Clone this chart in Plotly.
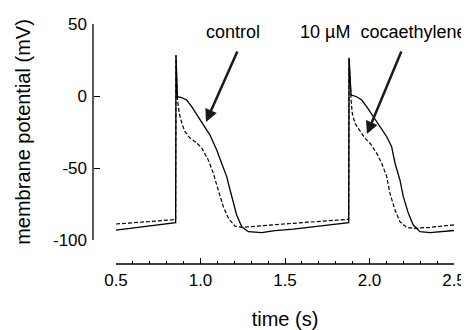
import plotly.graph_objects as go

# control (solid)
ctrl_t = [0.5, 0.853, 0.855, 0.863, 0.889, 0.918, 0.948, 0.978, 1.017, 1.056, 1.096, 1.125,
          1.155, 1.175, 1.194, 1.214, 1.244, 1.283, 1.362, 1.441, 1.549, 1.877,
          1.879, 1.891, 1.924, 1.954, 1.983, 2.022, 2.062, 2.102, 2.131, 2.151, 2.180,
          2.200, 2.230, 2.259, 2.299, 2.358, 2.5]
ctrl_v = [-93.1, -88.0, 28.5, -0.5, -1.2, -2.8, -7.4, -13.2, -20.1, -27.1, -37.5, -46.7,
          -56.0, -65.3, -74.5, -82.6, -90.8, -94.2, -94.9, -93.5, -92.4, -88.0,
          26.5, 0.7, -0.5, -2.8, -7.4, -14.4, -21.3, -28.3, -35.2, -46.7, -58.3,
          -69.9, -81.5, -89.6, -94.2, -94.9, -93.4]

# 10 uM cocaethylene (dashed)
coca_t = [0.5, 0.853, 0.855, 0.863, 0.874, 0.889, 0.908, 0.938, 0.978, 1.007, 1.046, 1.076,
          1.105, 1.135, 1.165, 1.204, 1.244, 1.362, 1.549, 1.877,
          1.879, 1.891, 1.898, 1.914, 1.944, 1.973, 2.003, 2.033, 2.043, 2.072, 2.102,
          2.121, 2.151, 2.180, 2.220, 2.259, 2.358, 2.5]
coca_v = [-88.9, -85.8, 28.0, -1.6, -11.8, -18.8, -24.8, -29.2, -32.6, -36.1, -44.4, -53.7,
          -65.3, -76.9, -84.9, -90.3, -91.2, -90.3, -88.4, -85.6,
          26.0, -2.8, -12.0, -19.0, -24.8, -29.4, -32.8, -37.5, -39.8, -46.7, -56.0,
          -67.6, -79.2, -87.3, -91.2, -91.9, -91.2, -89.5]

x_ticks = [0.5, 1.0, 1.5, 2.0, 2.5]
x_labels = ["0.5", "1.0", "1.5", "2.0", "2.5"]
y_ticks = [-100, -50, 0, 50]
y_labels = ["-100", "-50", "0", "50"]
x_range = [0.5, 2.5]
y_range = [-100, 50]

FONT = "Liberation Sans, Arial, Helvetica, sans-serif"
X_DOMAIN = [23 / 361, 1]
Y_DOMAIN = [0.1, 1]

fig = go.Figure()
fig.add_trace(go.Scatter(x=coca_t, y=coca_v, mode="lines",
                         line=dict(color="black", width=1.2, dash="4px,2px"),
                         showlegend=False))
fig.add_trace(go.Scatter(x=ctrl_t, y=ctrl_v, mode="lines",
                         line=dict(color="black", width=1.3),
                         showlegend=False))

# detached axis lines (paper coordinates, matching the axis domains)
fig.add_shape(type="line", xref="paper", yref="paper", x0=0, x1=0, y0=Y_DOMAIN[0], y1=Y_DOMAIN[1],
              line=dict(color="black", width=1.3))
fig.add_shape(type="line", xref="paper", yref="paper", x0=X_DOMAIN[0], x1=X_DOMAIN[1], y0=0, y1=0,
              line=dict(color="black", width=1.3))

# arrows
fig.add_annotation(x=1.0325, y=-18, ax=1.222, ay=32, xref="x", yref="y", axref="x", ayref="y",
                   text="", showarrow=True, arrowhead=2, arrowsize=1, arrowwidth=2.5,
                   arrowcolor="#1a1a1a")
fig.add_annotation(x=1.985, y=-26.4, ax=2.192, ay=32, xref="x", yref="y", axref="x", ayref="y",
                   text="", showarrow=True, arrowhead=2, arrowsize=1, arrowwidth=2.5,
                   arrowcolor="#1a1a1a")
fig.add_annotation(x=1.192, y=44.4, xref="x", yref="y", text="control", showarrow=False,
                   font=dict(size=18, color="black", family=FONT))
fig.add_annotation(x=2.08, y=44.4, xref="x", yref="y", text="10 µM\u00a0 cocaethylene",
                   showarrow=False, font=dict(size=18, color="black", family=FONT))

fig.update_layout(
    width=461, height=322,
    margin=dict(l=85, r=15, t=16, b=66, autoexpand=False),
    paper_bgcolor="white", plot_bgcolor="white",
    font=dict(family=FONT, color="black", size=17),
    xaxis=dict(domain=X_DOMAIN, anchor="free", position=0, range=x_range,
               showline=False, showgrid=False, zeroline=False, automargin=False,
               ticks="inside", ticklen=6, tickwidth=1.2, tickcolor="black",
               tickvals=x_ticks, ticktext=x_labels, tickfont=dict(size=17),
               ticklabelstandoff=4,
               minor=dict(dtick=0.1, ticks="inside", ticklen=3.5, tickwidth=1.1, tickcolor="black",
                          showgrid=False),
               title=dict(text="time (s)", font=dict(size=20), standoff=22)),
    yaxis=dict(domain=Y_DOMAIN, anchor="free", position=0, range=y_range,
               showline=False, showgrid=False, zeroline=False, automargin=False,
               ticks="inside", ticklen=6, tickwidth=1.2, tickcolor="black",
               tickvals=y_ticks, ticktext=y_labels, tickfont=dict(size=17),
               ticklabelstandoff=6,
               title=dict(text="membrane potential (mV)", font=dict(size=20), standoff=15)),
)

fig.write_html("out.html")
